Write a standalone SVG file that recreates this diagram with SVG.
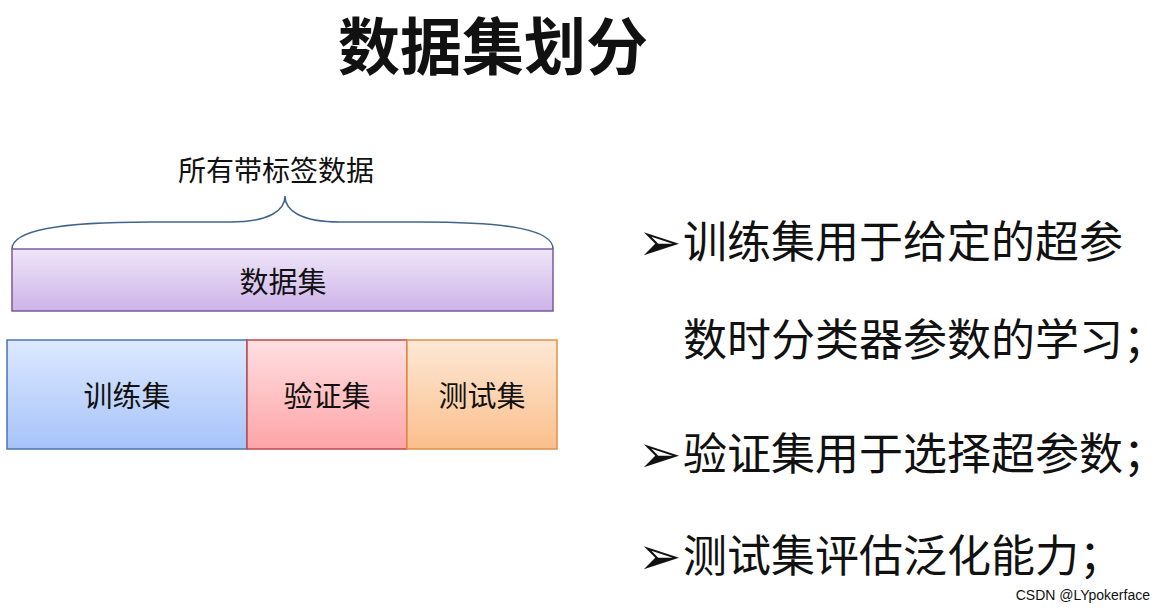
<svg xmlns="http://www.w3.org/2000/svg" width="1164" height="612" viewBox="0 0 1164 612">
<style>
text{font-family:"Noto Sans CJK SC","Liberation Sans",sans-serif;fill:#111}
.box{stroke-width:1.5}
.lbl{font-size:29px;text-anchor:middle}
.b{font-size:44px}
.ar{font-size:52px;font-family:"DejaVu Sans",sans-serif}
</style>
<defs>
<linearGradient id="gp" x1="0" y1="0" x2="0" y2="1"><stop offset="0" stop-color="#efe6f8"/><stop offset="1" stop-color="#cdb3ea"/></linearGradient>
<linearGradient id="gb" x1="0" y1="0" x2="0" y2="1"><stop offset="0" stop-color="#dde9ff"/><stop offset="1" stop-color="#a6c3f9"/></linearGradient>
<linearGradient id="gr" x1="0" y1="0" x2="0" y2="1"><stop offset="0" stop-color="#ffe0e2"/><stop offset="1" stop-color="#fda4a6"/></linearGradient>
<linearGradient id="go" x1="0" y1="0" x2="0" y2="1"><stop offset="0" stop-color="#fde8d6"/><stop offset="1" stop-color="#fbbf8c"/></linearGradient>
</defs>
<rect width="1164" height="612" fill="#fff"/>
<text x="493" y="70" font-size="62" font-weight="bold" text-anchor="middle">数据集划分</text>
<text x="276" y="181" font-size="28" text-anchor="middle" fill="#222">所有带标签数据</text>
<g id="connectors">
<path d="M12,249 C12,230 60,222 150,222 L230,222 C270,222 285,210 285,196 C285,210 300,222 340,222 L420,222 C510,222 553,230 553,249" fill="none" stroke="#41648c" stroke-width="1.5"/>
</g>
<g id="dataset"><rect class="box" x="12" y="249" width="541" height="62" fill="url(#gp)" stroke="#7a5a9a"/><text class="lbl" x="283" y="293">数据集</text></g>
<g id="train"><rect class="box" x="7" y="340" width="240" height="109" fill="url(#gb)" stroke="#4a74b0"/><text class="lbl" x="127" y="407">训练集</text></g>
<g id="val"><rect class="box" x="247" y="340" width="160" height="109" fill="url(#gr)" stroke="#c0484c"/><text class="lbl" x="327" y="407">验证集</text></g>
<g id="test"><rect class="box" x="407" y="340" width="150" height="109" fill="url(#go)" stroke="#e0904a"/><text class="lbl" x="482" y="407">测试集</text></g>
<g id="bullets">
<text class="ar" x="638" y="260">➢</text><text class="b" x="683" y="258">训练集用于给定的超参</text>
<text class="b" x="683" y="356">数时分类器参数的学习；</text>
<text class="ar" x="638" y="472">➢</text><text class="b" x="683" y="470">验证集用于选择超参数；</text>
<text class="ar" x="638" y="574">➢</text><text class="b" x="683" y="572">测试集评估泛化能力；</text>
</g>
<text x="1150" y="600" font-size="14" text-anchor="end" fill="#888" style="font-family:'Liberation Sans',sans-serif">CSDN @LYpokerface</text>
</svg>
